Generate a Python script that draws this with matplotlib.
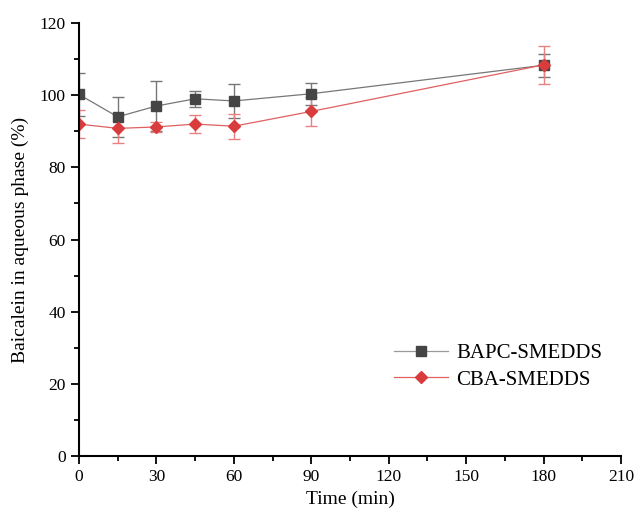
import numpy as np
import matplotlib.pyplot as plt
from matplotlib.lines import Line2D

plt.rcParams['font.family'] = ['Liberation Serif', 'DejaVu Serif']

time = [0, 15, 30, 45, 60, 90, 180]
bapc = [100.2, 94.0, 97.0, 99.0, 98.4, 100.4, 108.3]
bapc_err = [6.0, 5.5, 7.0, 2.2, 4.6, 3.0, 3.2]
cba = [92.0, 90.8, 91.2, 92.0, 91.4, 95.5, 108.4]
cba_err = [4.0, 4.0, 1.5, 2.5, 3.5, 4.0, 5.3]

fig = plt.figure(figsize=(6.34, 5.23), dpi=100)
ax = fig.add_axes([0.1246, 0.128, 0.855, 0.828])

ax.errorbar(time, bapc, yerr=bapc_err, color='#777777', lw=0.9, marker='s', ms=6.5,
            mfc='#454545', mec='#454545', ecolor='#777777', elinewidth=1.0,
            capsize=4, capthick=1.0)
ax.errorbar(time, cba, yerr=cba_err, color='#e06060', lw=0.9, marker='D', ms=6.5,
            mfc='#d83c3c', mec='#d83c3c', ecolor='#e88080', elinewidth=1.0,
            capsize=4, capthick=1.0)

handles = [
    Line2D([], [], color='#999999', lw=0.9, marker='s', ms=6.5, mfc='#454545', mec='#454545'),
    Line2D([], [], color='#e06060', lw=0.9, marker='D', ms=6.5, mfc='#d83c3c', mec='#d83c3c'),
]
ax.legend(handles, ['BAPC-SMEDDS', 'CBA-SMEDDS'], loc='lower right',
          bbox_to_anchor=(1.0, 0.11), frameon=False, fontsize=15,
          handlelength=2.6, handletextpad=0.4, labelspacing=0.35)

ax.set_xlim(0, 210)
ax.set_ylim(0, 120)
ax.set_xticks(np.arange(0, 211, 30))
ax.set_xticks(np.arange(15, 211, 30), minor=True)
ax.set_yticks(np.arange(0, 121, 20))
ax.set_yticks(np.arange(10, 121, 20), minor=True)
ax.spines['top'].set_visible(False)
ax.spines['right'].set_visible(False)
ax.spines['left'].set_linewidth(1.5)
ax.spines['bottom'].set_linewidth(1.5)
ax.tick_params(which='major', length=6, width=1.3, labelsize=12.5)
ax.tick_params(which='minor', length=3.5, width=1.3)

ax.set_xlabel('Time (min)', fontsize=14)
ax.set_ylabel('Baicalein in aqueous phase (%)', fontsize=14, labelpad=8)

fig.savefig('out.png', dpi=100)
